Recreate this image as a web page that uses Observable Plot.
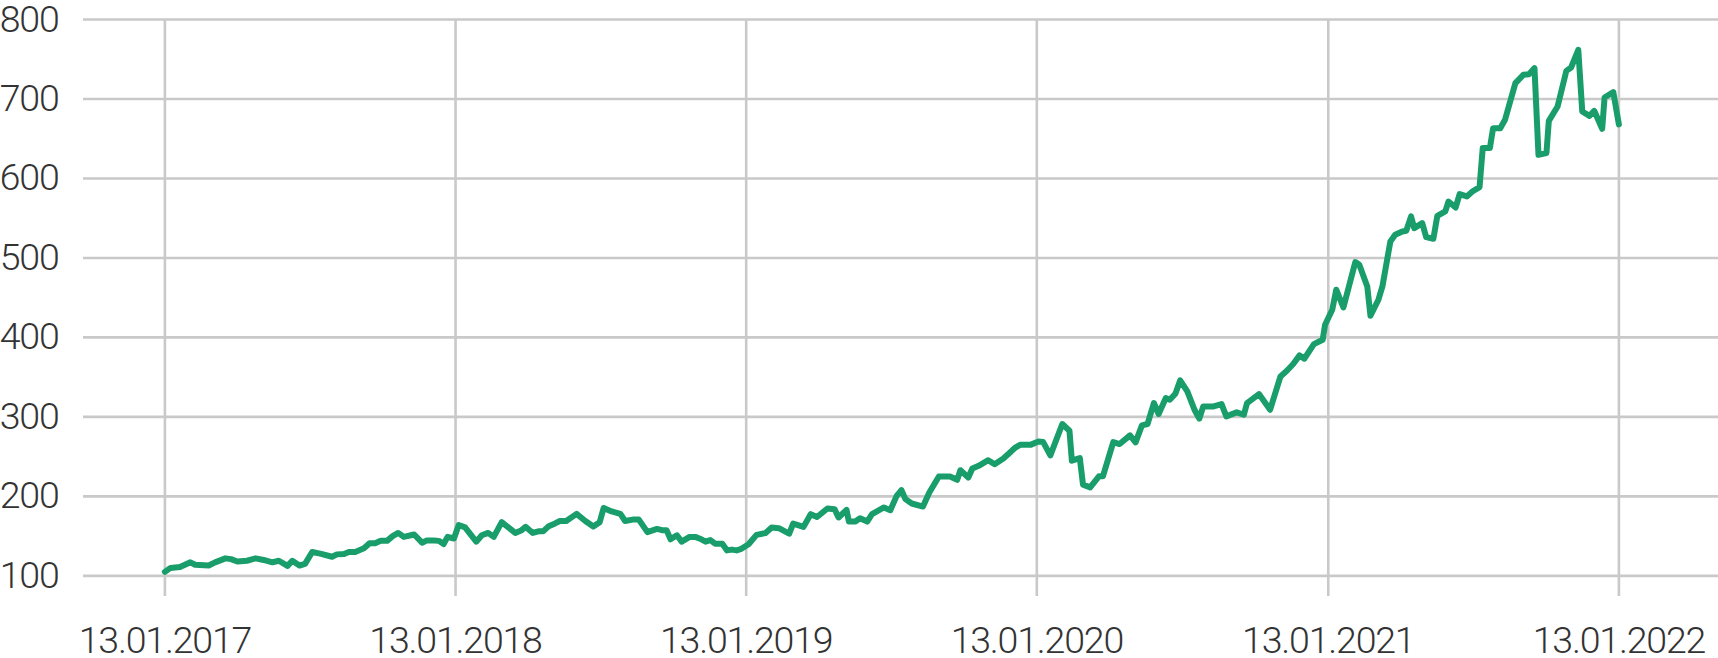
<!DOCTYPE html>
<html><head><meta charset="utf-8">
<script src="https://cdn.jsdelivr.net/npm/d3@7"></script>
<script src="https://cdn.jsdelivr.net/npm/@observablehq/plot@0.6"></script>
<style>
html,body{margin:0;padding:0;background:#fff;}
#chart svg{display:block;}
</style></head><body><div id="chart"></div>
<script>
const dates = [
"2017-01-13","2017-01-20","2017-02-01","2017-02-14","2017-02-20","2017-03-09","2017-03-17","2017-03-30","2017-04-06","2017-04-14",
"2017-04-26","2017-05-07","2017-05-17","2017-05-28","2017-06-05","2017-06-16","2017-06-22","2017-07-01","2017-07-08","2017-07-17",
"2017-07-27","2017-08-11","2017-08-17","2017-08-26","2017-09-01","2017-09-09","2017-09-20","2017-09-27","2017-10-04","2017-10-11",
"2017-10-19","2017-10-26","2017-11-02","2017-11-09","2017-11-22","2017-12-02","2017-12-08","2017-12-17","2017-12-23","2017-12-29",
"2018-01-03","2018-01-11","2018-01-17","2018-01-25","2018-02-08","2018-02-15","2018-02-23","2018-03-02","2018-03-12","2018-03-29",
"2018-04-06","2018-04-11","2018-04-20","2018-04-27","2018-05-03","2018-05-10","2018-05-18","2018-05-24","2018-06-01","2018-06-14",
"2018-06-25","2018-07-05","2018-07-13","2018-07-18","2018-07-28","2018-08-08","2018-08-14","2018-08-25","2018-08-31","2018-09-11",
"2018-09-23","2018-09-29","2018-10-05","2018-10-10","2018-10-18","2018-10-24","2018-11-03","2018-11-10","2018-11-16","2018-11-23",
"2018-11-29","2018-12-05","2018-12-14","2018-12-20","2018-12-26","2019-01-01","2019-01-06","2019-01-16","2019-01-26","2019-02-06",
"2019-02-14","2019-02-23","2019-03-08","2019-03-13","2019-03-26","2019-04-04","2019-04-12","2019-04-25","2019-05-04","2019-05-09",
"2019-05-19","2019-05-22","2019-05-30","2019-06-05","2019-06-14","2019-06-20","2019-07-05","2019-07-13","2019-07-21","2019-07-27",
"2019-08-01","2019-08-09","2019-08-23","2019-08-31","2019-09-12","2019-09-26","2019-10-05","2019-10-09","2019-10-19","2019-10-24",
"2019-11-01","2019-11-13","2019-11-21","2019-12-02","2019-12-09","2019-12-17","2019-12-23","2020-01-05","2020-01-15","2020-01-21",
"2020-01-30","2020-02-14","2020-02-23","2020-02-26","2020-03-07","2020-03-11","2020-03-20","2020-03-31","2020-04-05","2020-04-18",
"2020-04-26","2020-05-09","2020-05-16","2020-05-24","2020-05-31","2020-06-08","2020-06-14","2020-06-23","2020-06-28","2020-07-05",
"2020-07-11","2020-07-20","2020-07-29","2020-08-04","2020-08-09","2020-08-22","2020-09-01","2020-09-07","2020-09-20","2020-09-29",
"2020-10-03","2020-10-18","2020-11-01","2020-11-14","2020-11-22","2020-11-30","2020-12-08","2020-12-14","2020-12-26","2021-01-06",
"2021-01-09","2021-01-18","2021-01-23","2021-02-01","2021-02-16","2021-02-21","2021-03-03","2021-03-07","2021-03-17","2021-03-22",
"2021-04-01","2021-04-07","2021-04-16","2021-04-21","2021-04-27","2021-05-01","2021-05-11","2021-05-16","2021-05-25","2021-05-30",
"2021-06-09","2021-06-13","2021-06-22","2021-06-27","2021-07-06","2021-07-13","2021-07-22","2021-07-26","2021-08-04","2021-08-08",
"2021-08-17","2021-08-23","2021-09-05","2021-09-15","2021-09-22","2021-09-29","2021-10-04","2021-10-14","2021-10-17","2021-10-28",
"2021-11-08","2021-11-14","2021-11-23","2021-11-28","2021-12-07","2021-12-13","2021-12-23","2021-12-26","2022-01-06","2022-01-13"
];
const values = [
105,110,111,117,114,113,117,122,121,118,
119,122,120,117,119,112.5,119,113,115,130,
128,124,127,127.5,130,130,134.6,141,141,144,
144,150,154,149,152,141.7,144.6,144.6,144,140,
149,147,164,161,143,151,154,149,167.5,154,
157.5,161.7,154,156,156,162.5,166,169,169,178,
169,162,167.5,185.4,181,178,169,171,171,155,
159,157.5,157.5,146,151,143,149,149,146.7,143,
145,140.4,140.4,132,133,132,133.5,139.8,151.6,153.7,
160.8,160,153,165.8,161.6,177.6,174,184.7,183.9,173.4,
183,168.3,168.3,172.5,168.3,177.6,186,182.6,200.6,207.8,
196.5,191,187.2,204.8,225,225,220.8,232.9,223.7,235,
238.4,245.5,240.5,247.6,253.9,261.4,264.8,264.8,269,268.3,
251.6,291,282.6,244.9,248.2,214.7,211.3,225.2,225.2,268.3,
265.8,276.7,267.9,289.3,291,317.4,303.6,323.7,321.6,329.1,
345.9,332,309,297.7,313.2,313.2,316.1,300.6,305.7,302.7,
317.4,328.7,309,350.9,358,366.5,377.4,373.2,391.6,397.1,
415.9,434.8,460,437.7,494.8,491.4,464.1,427.3,447.4,464.1,
520.8,529.1,533.3,534.2,552.2,537.5,543.8,526.2,524.1,553,
558.5,571,563.5,580.3,577.4,583.6,589.1,638.2,638.2,663.3,
663.3,673.8,719.9,730.4,731.2,738.8,629.8,631.9,672.5,690.6,
735.4,739.6,761.8,684.3,678.8,685.1,662.5,701.9,708.6,668
];
const xTickDates = ["2017-01-13","2018-01-13","2019-01-13","2020-01-13","2021-01-13","2022-01-13"];
const yTicks = [100,200,300,400,500,600,700,800];

const data = dates.map((d,i)=>({date:new Date(d), value:values[i]}));
const xt = xTickDates.map(d=>new Date(d));
const grid = "#c9c9c9";

const chart = Plot.plot({
  width:1718, height:658,
  marginLeft:83, marginRight:0, marginTop:19, marginBottom:62,
  style:{fontFamily:"Roboto, sans-serif", fontWeight:300, fontSize:"37.5px", letterSpacing:"-1.2px", color:"#333", background:"#fff", overflow:"visible"},
  x:{type:"utc", domain:[new Date("2017-01-13"), new Date("2022-01-13")], range:[164.4,1618.4], label:null},
  y:{domain:[74,800], label:null},
  marks:[
    Plot.gridY(yTicks,{stroke:grid, strokeOpacity:1, strokeWidth:2.6}),
    Plot.gridX(xt,{stroke:grid, strokeOpacity:1, strokeWidth:2.6}),
    Plot.axisY(yTicks,{tickSize:0, tickPadding:25, fontSize:37.5, label:null}),
    Plot.axisX(xt,{tickSize:0, tickPadding:30, fontSize:37.5, label:null, tickFormat:d3.utcFormat("%d.%m.%Y")}),
    Plot.line(data,{x:"date", y:"value", stroke:"#199e6b", strokeWidth:6, strokeLinejoin:"round", strokeLinecap:"round"})
  ]
});
document.getElementById("chart").appendChild(chart);
</script></body></html>
